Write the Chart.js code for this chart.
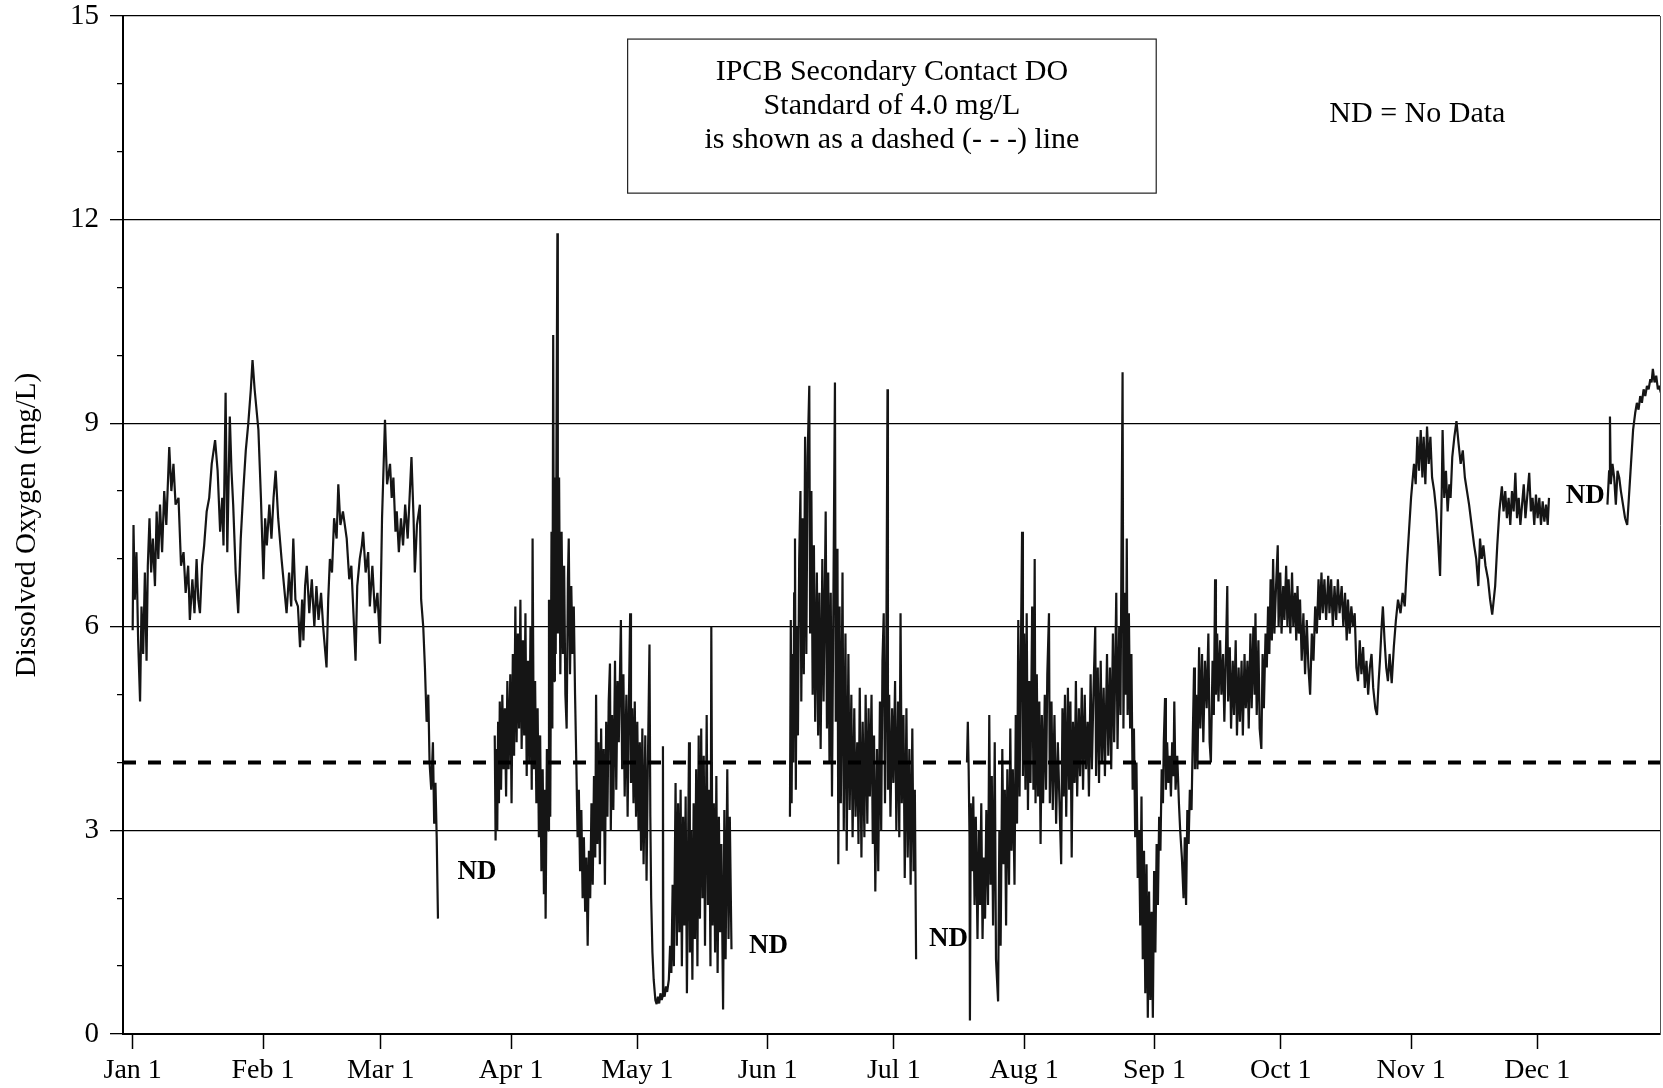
<!DOCTYPE html>
<html>
<head>
<meta charset="utf-8">
<title>Dissolved Oxygen</title>
<script src="https://cdn.jsdelivr.net/npm/chart.js@4.4.1/dist/chart.umd.min.js"></script>
<style>
  html, body { margin: 0; padding: 0; background: #fff; }
  #wrap { width: 1663px; height: 1088px; position: relative; }
</style>
</head>
<body>
<div id="wrap"><canvas id="grafico"></canvas></div>
<script>
// [dia del año (Jan 1 = 0), OD en mg/L], por tramo con datos
var janMar = [[0,5.95],[0.2,7.5],[0.5,6.4],[0.9,7.1],[1.3,5.8],[1.76,4.9],[2.1,6.3],[2.5,5.6],[2.9,6.8],[3.3,5.5],[3.6,6.9],[4.0,7.6],[4.4,6.8],[4.8,7.3],[5.3,6.6],[5.7,7.7],[6.1,7.0],[6.5,7.8],[7.0,7.1],[7.5,8.0],[8.0,7.5],[8.7,8.65],[9.2,8.0],[9.7,8.4],[10.2,7.8],[10.9,7.9],[11.5,6.9],[12.1,7.1],[12.6,6.5],[13.2,6.9],[13.6,6.1],[14.2,6.7],[14.7,6.2],[15.2,7.0],[15.6,6.4],[16.0,6.2],[16.5,6.9],[17.0,7.2],[17.6,7.7],[18.2,7.9],[18.8,8.4],[19.6,8.75],[20.2,8.3],[20.8,7.4],[21.3,7.9],[21.6,7.2],[22.1,9.45],[22.5,7.1],[23.1,9.1],[23.5,8.3],[23.9,7.8],[24.5,6.8],[25.1,6.2],[25.7,7.3],[26.3,8.0],[26.9,8.6],[27.5,9.0],[28.1,9.5],[28.5,9.93],[29.0,9.5],[29.9,8.9],[30.5,7.9],[31.1,6.7],[31.5,7.6],[31.9,7.2],[32.5,7.8],[33.0,7.3],[33.5,7.9],[34.0,8.3],[34.6,7.6],[35.4,7.0],[36.0,6.6],[36.6,6.2],[37.2,6.8],[37.7,6.3],[38.2,7.3],[38.7,6.4],[39.3,6.3],[39.8,5.7],[40.3,6.4],[40.6,5.8],[41.0,6.6],[41.4,6.9],[42.0,6.2],[42.6,6.7],[43.2,6.0],[43.7,6.6],[44.2,6.1],[44.8,6.5],[45.3,6.0],[46.1,5.4],[46.5,6.4],[46.9,7.0],[47.4,6.8],[47.9,7.6],[48.5,7.3],[48.9,8.1],[49.4,7.5],[50.0,7.7],[50.9,7.3],[51.5,6.7],[52.0,6.9],[52.5,6.2],[53.0,5.5],[53.4,6.6],[54.0,7.0],[54.5,7.2],[54.8,7.4],[55.4,6.8],[56.0,7.1],[56.4,6.3],[57.0,6.9],[57.6,6.2],[58.2,6.5],[58.8,5.75],[59.3,7.6],[60.0,9.05],[60.5,8.1],[61.2,8.4],[61.6,7.9],[62.0,8.2],[62.5,7.4],[62.8,7.7],[63.3,7.1],[63.8,7.6],[64.3,7.2],[64.8,7.8],[65.4,7.3],[66.3,8.5],[66.8,7.6],[67.1,6.8],[67.6,7.5],[68.3,7.8],[68.6,6.4],[69.1,6.0],[69.5,5.4],[69.9,4.6],[70.3,5.0],[70.6,4.0],[71.0,3.6],[71.4,4.3],[71.7,3.1],[72.0,3.7],[72.3,2.9],[72.6,1.7]];

var aprMay = [[86.1,4.4],[86.3,2.85],[86.5,4.2],[86.7,3.0],[86.9,4.6],[87.1,3.4],[87.3,4.9],[87.6,3.6],[87.9,5.0],[88.2,3.9],[88.5,4.8],[88.8,3.5],[89.1,5.2],[89.4,3.9],[89.8,5.3],[90.1,3.4],[90.4,5.6],[90.7,4.1],[91.0,6.3],[91.3,4.3],[91.6,5.9],[91.9,4.5],[92.2,6.4],[92.5,4.2],[92.8,5.8],[93.1,4.4],[93.4,6.2],[93.7,3.8],[94.0,5.5],[94.3,4.0],[94.6,6.0],[94.9,3.6],[95.1,7.3],[95.4,3.9],[95.7,5.2],[96.0,3.4],[96.3,4.8],[96.6,2.9],[96.9,4.4],[97.2,2.4],[97.5,3.9],[97.8,2.06],[98.0,3.6],[98.2,1.7],[98.5,4.2],[98.8,3.0],[99.0,6.4],[99.3,3.2],[99.6,7.4],[99.8,4.5],[100.0,10.3],[100.2,5.2],[100.4,8.2],[100.6,5.6],[100.8,9.0],[101.0,11.8],[101.1,5.9],[101.4,8.2],[101.7,5.3],[102.0,7.4],[102.3,5.6],[102.6,6.9],[102.9,5.0],[103.2,4.5],[103.5,6.7],[103.7,7.3],[104.0,5.3],[104.3,6.6],[104.6,5.6],[104.9,6.3],[105.2,5.0],[105.5,4.0],[105.8,2.9],[106.1,3.6],[106.4,2.4],[106.7,3.3],[107.0,2.0],[107.3,2.9],[107.6,1.8],[107.9,2.6],[108.2,1.3],[108.5,2.7],[108.8,2.0],[109.1,3.4],[109.4,2.2],[109.7,3.8],[110.0,2.6],[110.2,5.0],[110.5,2.8],[110.8,4.3],[111.1,2.5],[111.4,4.5],[111.7,3.0],[112.0,4.2],[112.3,2.2],[112.6,4.6],[112.9,3.2],[113.2,4.9],[113.5,5.46],[113.7,3.0],[114.0,4.7],[114.3,3.3],[114.7,5.5],[115.0,3.6],[115.3,5.2],[115.6,4.3],[116.1,6.1],[116.4,3.9],[116.7,5.3],[117.0,3.5],[117.4,5.0],[117.7,3.2],[118.0,4.9],[118.3,6.2],[118.5,3.7],[118.8,4.8],[119.1,3.4],[119.4,4.9],[119.7,3.2],[120.0,4.6],[120.3,3.0],[120.6,4.3],[120.9,2.7],[121.2,4.5],[121.5,2.5],[121.9,4.4],[122.2,2.26],[122.5,3.9],[122.9,5.74],[123.1,3.2],[123.3,2.0],[123.6,1.2],[123.9,0.8],[124.3,0.5],[124.6,0.44],[124.9,0.55],[125.2,0.45],[125.5,0.6],[125.8,0.5],[126.0,0.55],[126.1,4.24],[126.2,0.6],[126.5,0.55],[126.8,0.7],[127.1,0.62],[127.5,0.8],[127.8,1.3],[128.1,0.9],[128.4,2.2],[128.7,1.0],[129.1,3.7],[129.4,1.3],[129.7,3.4],[130.0,1.5],[130.3,3.6],[130.6,1.0],[130.9,3.2],[131.2,1.6],[131.5,3.5],[131.8,0.6],[132.1,2.9],[132.3,4.3],[132.5,1.2],[132.8,3.0],[133.1,0.8],[133.4,3.4],[133.7,1.4],[134.0,3.9],[134.3,1.0],[134.6,4.4],[134.9,1.7],[135.2,4.5],[135.5,2.0],[135.8,4.1],[136.1,1.3],[136.5,4.7],[136.8,1.9],[137.1,3.6],[137.4,1.0],[137.6,6.0],[137.9,1.6],[138.2,3.4],[138.5,1.2],[138.8,3.8],[139.1,0.9],[139.4,3.2],[139.7,1.5],[140.0,2.8],[140.4,0.36],[140.7,3.3],[141.0,1.1],[141.4,3.9],[141.7,1.4],[142.0,3.2],[142.4,1.25]];

var junJul = [[156.3,3.2],[156.5,6.1],[156.7,3.4],[156.9,5.6],[157.1,4.0],[157.3,6.5],[157.5,7.3],[157.7,3.6],[157.9,6.0],[158.2,4.4],[158.5,7.0],[158.8,8.0],[159.0,4.9],[159.3,7.6],[159.6,5.3],[159.9,8.8],[160.2,5.6],[160.5,8.5],[160.9,9.55],[161.1,5.9],[161.4,8.0],[161.7,5.0],[162.0,7.2],[162.3,4.6],[162.7,6.8],[163.0,4.4],[163.3,6.5],[163.6,4.2],[164.0,7.0],[164.3,4.9],[164.8,7.7],[165.1,4.5],[165.4,6.8],[165.7,4.0],[166.0,6.5],[166.3,3.5],[166.7,7.0],[167.0,9.6],[167.2,4.6],[167.6,7.15],[167.8,2.5],[168.1,6.3],[168.4,3.4],[168.8,6.8],[169.1,3.0],[169.5,5.9],[169.8,2.7],[170.2,5.6],[170.5,3.3],[170.9,5.0],[171.2,2.9],[171.6,4.8],[171.9,3.2],[172.3,4.3],[172.6,2.8],[172.9,5.1],[173.3,2.6],[173.6,4.6],[174.0,2.9],[174.3,5.0],[174.7,3.1],[175.0,4.8],[175.3,3.5],[175.7,5.0],[176.0,2.8],[176.3,4.4],[176.6,2.1],[177.0,4.2],[177.3,2.4],[177.7,4.9],[178.0,3.0],[178.3,5.5],[178.6,6.2],[178.9,3.4],[179.2,5.4],[179.5,9.5],[179.6,3.6],[179.9,5.0],[180.2,3.2],[180.6,4.8],[180.9,3.7],[181.3,5.2],[181.6,3.0],[182.0,4.9],[182.3,2.9],[182.6,6.2],[182.9,3.4],[183.3,4.7],[183.6,2.3],[184.0,4.8],[184.3,2.6],[184.7,4.2],[185.0,2.2],[185.4,4.5],[185.7,2.4],[186.0,3.6],[186.3,1.1]];

var julDec = [[198.4,4.0],[198.6,4.6],[198.8,3.9],[199.0,2.9],[199.1,0.2],[199.3,3.4],[199.6,2.4],[199.9,3.5],[200.2,1.9],[200.5,3.2],[200.9,1.4],[201.2,3.0],[201.5,1.9],[201.8,3.4],[202.1,1.4],[202.4,2.6],[202.7,1.7],[203.0,3.3],[203.4,1.9],[203.7,4.7],[204.0,2.2],[204.3,3.8],[204.6,1.6],[205.0,4.3],[205.3,1.1],[205.8,0.48],[206.1,3.0],[206.4,1.3],[206.8,4.2],[207.1,2.5],[207.4,3.6],[207.7,1.6],[208.0,3.9],[208.4,2.2],[208.7,4.5],[209.0,2.7],[209.3,3.9],[209.7,2.2],[210.0,4.7],[210.3,3.1],[210.6,6.1],[210.9,3.5],[211.2,5.5],[211.5,7.4],[211.7,3.8],[212.0,5.9],[212.3,3.6],[212.6,6.2],[212.9,3.3],[213.2,5.2],[213.5,3.7],[213.9,6.3],[214.2,3.6],[214.5,7.0],[214.7,3.4],[215.0,5.3],[215.3,3.5],[215.6,4.9],[215.9,2.8],[216.2,4.7],[216.5,3.4],[216.9,5.0],[217.2,3.6],[217.5,5.3],[217.9,6.2],[218.1,3.4],[218.5,4.9],[218.8,3.3],[219.2,4.7],[219.6,3.1],[220.0,4.3],[220.4,3.4],[220.8,2.5],[221.1,4.8],[221.4,3.5],[221.7,5.0],[222.0,3.2],[222.4,5.1],[222.7,3.6],[223.0,4.9],[223.3,2.6],[223.6,4.6],[224.0,3.7],[224.3,5.2],[224.6,3.5],[225.0,4.8],[225.3,3.8],[225.7,5.1],[226.0,3.6],[226.4,5.0],[226.7,3.9],[227.1,4.6],[227.4,3.5],[227.8,5.3],[228.1,3.9],[228.5,5.1],[228.9,6.0],[229.1,3.8],[229.5,5.4],[229.8,3.7],[230.2,5.5],[230.5,4.0],[230.9,5.1],[231.2,3.8],[231.7,5.6],[232.0,4.1],[232.4,5.4],[232.7,3.9],[233.1,5.9],[233.4,4.3],[233.9,6.5],[234.2,4.2],[234.6,6.0],[234.9,4.7],[235.4,9.75],[235.6,4.5],[235.9,6.5],[236.2,5.0],[236.4,7.3],[236.6,4.7],[236.9,6.2],[237.2,4.5],[237.5,5.6],[237.8,3.6],[238.1,4.5],[238.4,2.9],[238.7,4.0],[239.0,2.3],[239.3,3.0],[239.6,1.6],[239.9,3.5],[240.2,1.1],[240.5,2.7],[240.8,0.6],[241.1,2.5],[241.4,0.24],[241.7,2.1],[242.0,0.5],[242.3,1.8],[242.6,0.24],[242.9,2.4],[243.2,1.2],[243.5,2.8],[243.8,1.9],[244.1,3.2],[244.4,2.7],[244.7,3.9],[245.0,3.4],[245.2,4.3],[245.5,4.95],[245.7,3.6],[246.0,4.3],[246.3,3.7],[246.6,4.1],[246.9,3.5],[247.2,4.3],[247.5,3.8],[247.7,4.9],[248.0,3.6],[248.4,4.1],[248.8,3.4],[249.1,3.0],[249.5,2.6],[249.9,2.0],[250.2,2.9],[250.5,1.9],[250.8,3.3],[251.1,2.8],[251.4,3.6],[251.8,3.3],[252.1,4.4],[252.4,5.4],[252.6,3.9],[252.9,5.0],[253.2,3.9],[253.6,5.7],[253.9,4.5],[254.3,5.6],[254.6,4.3],[255.0,5.5],[255.4,4.8],[255.8,5.9],[256.1,4.3],[256.4,4.0],[256.8,5.5],[257.1,4.7],[257.4,6.7],[257.6,5.0],[257.9,5.9],[258.2,4.9],[258.6,5.8],[258.9,5.0],[259.3,5.6],[259.6,4.6],[259.9,5.4],[260.3,6.6],[260.5,4.9],[260.9,5.7],[261.2,4.5],[261.6,5.5],[261.9,4.7],[262.3,5.8],[262.6,4.4],[263.0,5.4],[263.3,4.6],[263.7,5.5],[264.0,4.4],[264.4,5.6],[264.7,4.8],[265.1,5.5],[265.4,4.5],[265.8,5.9],[266.1,4.8],[266.5,6.0],[266.8,5.0],[267.0,6.2],[267.3,4.7],[267.7,5.8],[268.0,4.5],[268.4,4.2],[268.7,5.6],[269.0,4.8],[269.4,5.9],[269.7,5.4],[270.0,6.3],[270.3,5.6],[270.6,6.7],[270.9,5.8],[271.2,7.0],[271.5,5.9],[271.9,6.6],[272.3,7.2],[272.5,6.0],[272.9,6.8],[273.2,5.9],[273.6,6.6],[273.9,6.1],[274.3,6.9],[274.6,6.0],[274.9,6.7],[275.3,5.9],[275.7,6.8],[276.0,6.0],[276.4,6.5],[276.7,5.8],[277.0,6.6],[277.3,5.9],[277.6,6.4],[278.0,5.5],[278.4,6.2],[278.8,5.3],[279.2,6.1],[279.6,5.4],[280.0,5.0],[280.4,5.9],[280.8,5.5],[281.2,6.3],[281.6,5.9],[282.0,6.7],[282.3,6.1],[282.7,6.8],[283.0,6.2],[283.4,6.7],[283.8,6.1],[284.3,6.75],[284.6,6.2],[285.0,6.7],[285.4,6.0],[285.8,6.6],[286.2,6.1],[286.6,6.7],[287.0,6.2],[287.5,6.6],[287.9,6.0],[288.3,6.5],[288.7,5.8],[289.0,6.4],[289.4,5.9],[289.8,6.3],[290.2,6.0],[290.6,6.2],[291.0,5.4],[291.4,5.2],[291.8,5.8],[292.2,5.3],[292.6,5.7],[293.0,5.1],[293.4,5.5],[293.8,5.0],[294.2,5.4],[294.6,5.6],[295.0,5.1],[295.5,4.8],[295.9,4.7],[296.3,5.2],[296.6,5.5],[297.0,6.0],[297.3,6.3],[297.7,5.8],[298.1,5.4],[298.5,5.2],[298.9,5.6],[299.4,5.17],[299.9,5.7],[300.4,6.1],[300.9,6.4],[301.5,6.2],[302.0,6.5],[302.5,6.3],[303.0,6.9],[303.5,7.4],[304.0,7.9],[304.7,8.4],[305.1,8.1],[305.5,8.8],[305.9,8.3],[306.3,8.9],[306.7,8.2],[307.0,8.8],[307.4,8.1],[307.8,8.95],[308.2,8.4],[308.6,8.8],[309.0,8.2],[309.5,8.0],[310.0,7.7],[310.5,7.2],[310.9,6.75],[311.3,8.0],[311.5,8.9],[311.9,7.9],[312.3,8.3],[312.7,7.7],[313.1,8.1],[313.4,7.9],[313.8,8.5],[314.3,8.8],[314.8,9.03],[315.3,8.7],[315.8,8.4],[316.3,8.6],[316.8,8.2],[317.3,8.0],[317.8,7.8],[318.4,7.5],[319.0,7.2],[319.5,7.0],[320.0,6.6],[320.4,7.3],[320.8,7.0],[321.2,7.2],[321.7,6.9],[322.3,6.7],[322.8,6.4],[323.3,6.18],[324.0,6.6],[324.5,7.2],[325.0,7.7],[325.6,8.07],[326.0,7.7],[326.4,8.0],[326.8,7.6],[327.2,7.9],[327.6,7.5],[328.0,8.0],[328.4,7.7],[328.8,8.27],[329.2,7.6],[329.6,7.9],[330.0,7.5],[330.4,7.8],[330.8,8.1],[331.2,7.6],[331.6,7.9],[332.1,8.27],[332.5,7.7],[332.9,7.9],[333.3,7.5],[333.7,7.95],[334.1,7.6],[334.5,7.9],[334.9,7.5],[335.3,7.85],[335.7,7.55],[336.1,7.8],[336.5,7.5],[336.8,7.9]];

var decEnd = [[350.7,7.8],[351.1,8.3],[351.3,9.1],[351.5,8.1],[351.9,8.4],[352.3,8.2],[352.7,7.8],[353.1,8.3],[353.5,8.2],[353.9,8.0],[354.4,7.8],[354.9,7.6],[355.4,7.5],[355.8,7.9],[356.3,8.4],[356.8,8.9],[357.3,9.15],[357.7,9.3],[358.1,9.2],[358.5,9.4],[358.9,9.3],[359.3,9.5],[359.7,9.4],[360.1,9.55],[360.5,9.5],[360.9,9.65],[361.2,9.6],[361.5,9.8],[361.9,9.6],[362.3,9.7],[362.7,9.5],[363.0,9.55],[363.4,9.45]];

var tramos = [janMar, aprMay, junJul, julDec, decEnd];

// eje X: primer dia de cada mes
var monthDays = [0, 31, 59, 90, 120, 151, 181, 212, 243, 273, 304, 334];
var monthLabels = ['Jan 1', 'Feb 1', 'Mar 1', 'Apr 1', 'May 1', 'Jun 1', 'Jul 1', 'Aug 1', 'Sep 1', 'Oct 1', 'Nov 1', 'Dec 1'];
var xMin = -2.3, xMax = 363.2;

// eje Y
var yMin = 0, yMax = 15, yMinorStep = 1, yMajorStep = 3;

// norma IPCB
var standardDO = 4.0;
var boxLines = ['IPCB Secondary Contact DO', 'Standard of 4.0 mg/L', 'is shown as a dashed (- - -) line'];

var serif = '"Liberation Serif", "Times New Roman", serif';

// Plugin para textos y caja de la norma
var notas = {
    id: 'notas',
    afterDraw: function(chart) {
        var ctx = chart.ctx;
        var sx = chart.scales.x, sy = chart.scales.y;
        ctx.save();
        ctx.fillStyle = '#000';
        ctx.textAlign = 'center';
        ctx.textBaseline = 'middle';

        // Caja de la norma
        var l = sx.getPixelForValue(117.7), r = sx.getPixelForValue(243.4);
        var t = sy.getPixelForValue(14.66), b = sy.getPixelForValue(12.39);
        ctx.strokeStyle = '#222';
        ctx.lineWidth = 1.2;
        ctx.strokeRect(l, t, r - l, b - t);
        ctx.font = '30px ' + serif;
        boxLines.forEach(function(txt, i) {
            ctx.fillText(txt, (l + r) / 2, t + 33 + i * 34);
        });

        ctx.fillText('ND = No Data', sx.getPixelForValue(305.5), sy.getPixelForValue(13.55));

        // Etiquetas de "sin datos"
        ctx.font = 'bold 27px ' + serif;
        [[81.9, 2.39], [151.2, 1.30], [194.0, 1.40], [345.4, 7.93]].forEach(function(p) {
            ctx.fillText('ND', sx.getPixelForValue(p[0]), sy.getPixelForValue(p[1]));
        });
        ctx.restore();
    }
};

var datasets = [{
    label: 'Standard',
    data: [{ x: xMin, y: standardDO }, { x: xMax, y: standardDO }],
    borderColor: '#000',
    borderWidth: 4,
    borderDash: [13, 12],
    pointRadius: 0
}];

tramos.forEach(function(tramo) {
    datasets.push({
        label: 'DO',
        data: tramo.map(function(p) { return { x: p[0], y: p[1] }; }),
        borderColor: '#151515',
        borderWidth: 2.2,
        borderJoinStyle: 'bevel',
        pointRadius: 0,
        tension: 0
    });
});

// Quitar el margen extra que Chart.js reserva para las etiquetas
function sinMargen(scale) {
    scale.paddingTop = 0;
    scale.paddingBottom = 0;
}

var ctx = document.getElementById('grafico').getContext('2d');
var grafico = new Chart(ctx, {
    type: 'line',
    data: { datasets: datasets },
    options: {
        responsive: true,
        maintainAspectRatio: false,
        animation: false,
        devicePixelRatio: 1,
        layout: { padding: { left: 0, right: 0, top: 16, bottom: 0 } },
        plugins: {
            legend: { display: false },
            tooltip: { enabled: false }
        },
        scales: {
            x: {
                type: 'linear',
                min: xMin,
                max: xMax,
                afterBuildTicks: function(scale) {
                    scale.ticks = monthDays.map(function(d) { return { value: d }; });
                },
                afterFit: function(scale) {
                    scale.height = 54;
                    scale.paddingLeft = 0;
                    scale.paddingRight = 0;
                },
                ticks: {
                    autoSkip: false,
                    maxRotation: 0,
                    padding: 5,
                    color: '#000',
                    font: { family: serif, size: 28 },
                    callback: function(value, index) { return monthLabels[index]; }
                },
                grid: {
                    drawOnChartArea: false,
                    drawTicks: true,
                    tickLength: 15,
                    tickColor: '#000',
                    tickWidth: 1.5
                },
                border: { color: '#000', width: 2 }
            },
            y: {
                min: yMin,
                max: yMax,
                afterFit: function(scale) {
                    scale.width = 123;
                    sinMargen(scale);
                },
                ticks: {
                    stepSize: yMinorStep,
                    padding: 11,
                    color: '#000',
                    font: { family: serif, size: 29 },
                    callback: function(value) { return value % yMajorStep === 0 ? String(value) : ''; }
                },
                grid: {
                    color: function(c) { return c.tick && c.tick.value % yMajorStep === 0 ? '#000' : 'rgba(0,0,0,0)'; },
                    lineWidth: 1.3,
                    tickLength: 13,
                    tickColor: '#000',
                    tickWidth: 1.3,
                    tickBorderDash: function(c) { return c.tick && c.tick.value % yMajorStep === 0 ? [] : [0, 7, 6, 40]; }
                },
                border: { color: '#000', width: 2 },
                title: {
                    display: true,
                    text: 'Dissolved Oxygen (mg/L)',
                    color: '#000',
                    font: { family: serif, size: 29 },
                    padding: { top: 10, bottom: 0 }
                }
            },
            y2: {
                position: 'right',
                min: yMin,
                max: yMax,
                afterFit: function(scale) {
                    scale.width = 3;
                    sinMargen(scale);
                },
                ticks: { display: false },
                grid: { display: false, drawTicks: false },
                border: { display: true, color: '#555', width: 1 }
            }
        }
    },
    plugins: [notas]
});
</script>
</body>
</html>
